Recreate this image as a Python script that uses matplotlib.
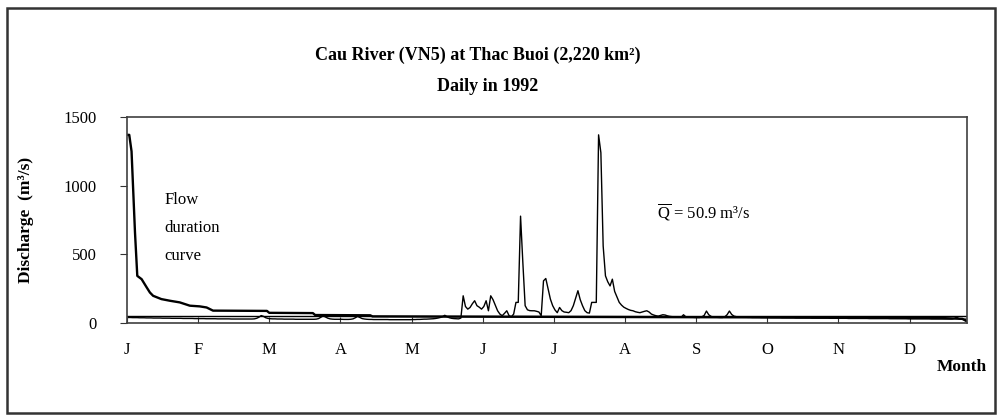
import numpy as np
import matplotlib
matplotlib.use("Agg")
import matplotlib.pyplot as plt
from matplotlib.patches import Rectangle

plt.rcParams['font.family'] = ['Liberation Serif', 'DejaVu Serif']
plt.rcParams['mathtext.fontset'] = 'custom'
plt.rcParams['mathtext.rm'] = 'Liberation Serif'

# daily discharge 1992 (m3/s), one list per month
jan = [40, 40, 39, 39, 39, 38, 38, 38, 37, 37, 37, 36, 36, 36, 36, 35, 35, 35, 35, 34,
       34, 34, 34, 34, 33, 33, 33, 33, 33, 32, 32]
feb = [32, 32, 32, 31, 31, 31, 31, 31, 30, 30, 30, 30, 30, 30, 29, 29, 29, 29, 29, 29,
       29, 29, 29, 29, 30, 34, 42, 54, 48]
mar = [38, 33, 31, 30, 30, 29, 29, 29, 28, 28, 28, 28, 28, 27, 27, 27, 27, 27, 27, 27,
       27, 27, 28, 32, 42, 52, 44, 35, 30, 28, 27]
apr = [27, 27, 27, 26, 26, 26, 27, 30, 38, 48, 40, 32, 29, 27, 26, 26, 25, 25, 25, 25,
       25, 25, 25, 24, 24, 24, 24, 24, 24, 24]
may = [24, 24, 24, 25, 25, 26, 26, 27, 28, 28, 29, 30, 31, 33, 36, 40, 46, 56, 45, 38,
       34, 32, 31, 30, 36, 198, 120, 101, 113, 140, 162]
jun = [126, 115, 101, 120, 162, 89, 198, 170, 130, 89, 65, 53, 70, 89, 53, 45, 65, 150,
       150, 778, 440, 126, 96, 90, 89, 89, 85, 80, 53, 307]
jul = [324, 250, 174, 126, 95, 75, 113, 90, 80, 78, 75, 90, 126, 180, 235, 170, 126, 90,
       75, 72, 150, 150, 150, 1370, 1240, 560, 343, 300, 270, 319, 230]
aug = [190, 150, 130, 115, 106, 98, 92, 89, 82, 78, 75, 80, 85, 89, 80, 65, 58, 53, 50,
       55, 60, 58, 52, 48, 46, 45, 44, 43, 42, 60, 45]
sep = [42, 41, 41, 40, 40, 40, 45, 55, 87, 60, 48, 44, 42, 41, 40, 40, 45, 60, 87, 62,
       50, 46, 44, 43, 42, 42, 41, 41, 40, 40]
oct_ = [40, 40, 39, 39, 39, 39, 38, 38, 38, 38, 38, 37, 37, 37, 37, 37, 37, 36, 36, 36,
        36, 36, 36, 36, 35, 35, 35, 35, 35, 35, 35]
nov = [35, 34, 34, 34, 34, 34, 34, 34, 34, 33, 33, 33, 33, 33, 33, 33, 33, 33, 32, 32,
       32, 32, 32, 32, 32, 32, 32, 31, 31, 31]
dec = [31, 31, 31, 31, 31, 30, 30, 30, 30, 30, 30, 30, 30, 30, 30, 29, 29, 29, 29, 29,
       29, 29, 29, 29, 29, 33, 42, 32, 28, 28, 28]

# flow duration curve (day of exceedance, discharge)
dur_day = [0.5, 1, 2, 3.5, 4.5, 6.4, 8.6, 10, 11.4, 15, 18.7, 23, 27.4, 31.7, 34.7,
           37.5, 61, 62, 81, 82, 106, 107, 200, 300, 355, 364, 366]
dur_q = [1370, 1370, 1250, 660, 343, 319, 259, 222, 198, 174, 162, 150, 126, 121, 113,
         90, 88, 74, 72, 58, 56, 48, 44, 40, 36, 30, 12]

q_mean = 50.9
month_labels = ['J', 'F', 'M', 'A', 'M', 'J', 'J', 'A', 'S', 'O', 'N', 'D']
month_ticks = [31 * i for i in range(12)]

daily = np.array(jan + feb + mar + apr + may + jun + jul + aug + sep + oct_ + nov + dec)
days = np.arange(len(daily)) + 0.5

fig = plt.figure(figsize=(10.02, 4.18), dpi=100)
ax = fig.add_axes([0.1267, 0.2273, 0.8383, 0.4928])

ax.plot(days, daily, color='black', lw=1.0)
ax.plot(dur_day, dur_q, color='black', lw=1.7)
ax.axhline(q_mean, color='black', lw=1.0)

ax.set_xlim(0, 366)
ax.set_ylim(0, 1500)
ax.set_yticks([0, 500, 1000, 1500])
ax.set_xticks(month_ticks)
ax.set_xticklabels(month_labels)
ax.tick_params(axis='x', direction='in', length=4.5, pad=14, labelsize=12, color='#333333')
ax.tick_params(axis='y', direction='out', length=5, pad=17, labelsize=12, color='#333333')
for s in ax.spines.values():
    s.set_color('#404040')
    s.set_linewidth(1.2)

ax.set_ylabel('Discharge  (m³/s)', fontsize=12.5, fontweight='bold')
ax.yaxis.set_label_coords(-0.111, 0.5)

ax.text(0.045, 0.461, 'Flow\nduration\ncurve', transform=ax.transAxes, fontsize=12,
        va='center', ha='left', linespacing=2.0)
ax.text(0.631, 0.539, r'$\overline{\mathrm{Q}}$ = 50.9 m³/s', transform=ax.transAxes,
        fontsize=12, va='center', ha='left')

fig.text(0.477, 0.868, 'Cau River (VN5) at Thac Buoi (2,220 km²)', fontsize=13,
         fontweight='bold', ha='center', va='center')
fig.text(0.487, 0.792, 'Daily in 1992', fontsize=13, fontweight='bold',
         ha='center', va='center')
fig.text(0.960, 0.122, 'Month', fontsize=12.5, fontweight='bold', ha='center', va='center')

fig.patches.append(Rectangle((0.007, 0.012), 0.986, 0.969, transform=fig.transFigure,
                             fill=False, edgecolor='#333333', lw=1.8))

fig.savefig('out.png', dpi=100)
